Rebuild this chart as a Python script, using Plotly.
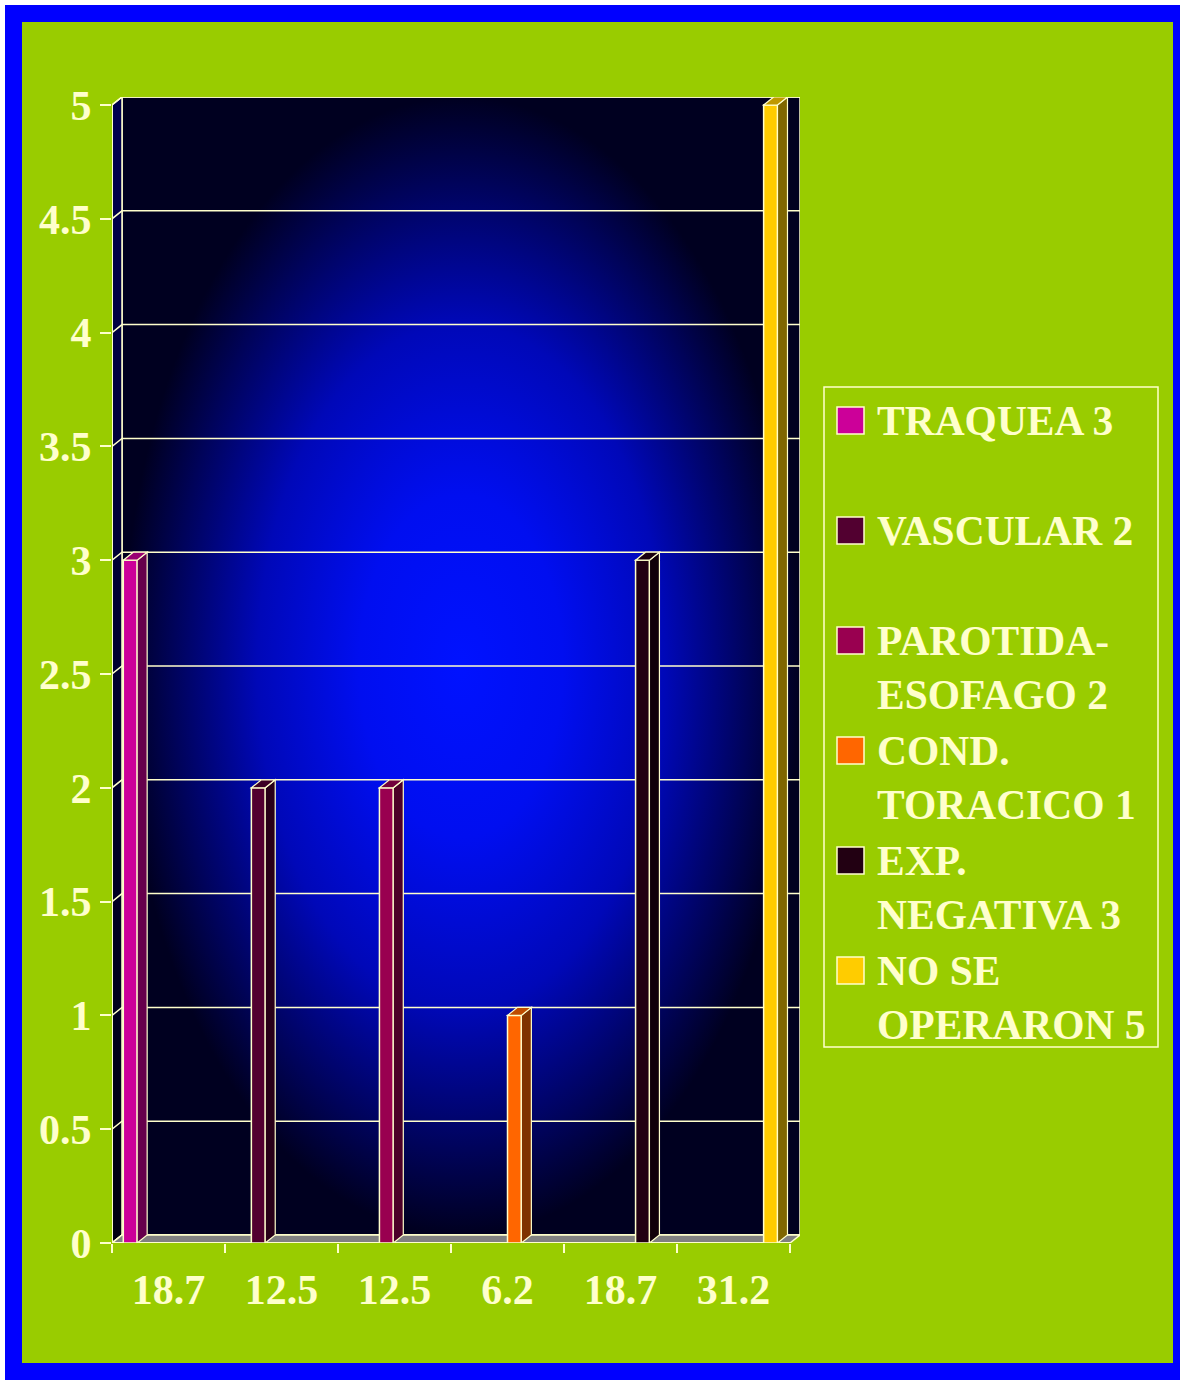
import plotly.graph_objects as go

# ---- data ---------------------------------------------------------------
categories = ["18.7", "12.5", "12.5", "6.2", "18.7", "31.2"]   # percentage of cases
series_names = ["TRAQUEA", "VASCULAR", "PAROTIDA-ESOFAGO", "COND. TORACICO",
                "EXP. NEGATIVA", "NO SE OPERARON"]
series_values = [3, 2, 2, 1, 3, 5]
legend_lines = [["TRAQUEA 3"], ["VASCULAR 2"], ["PAROTIDA-", "ESOFAGO 2"],
                ["COND.", "TORACICO 1"], ["EXP.", "NEGATIVA 3"], ["NO SE", "OPERARON 5"]]
y_ticks = [0, 0.5, 1, 1.5, 2, 2.5, 3, 3.5, 4, 4.5, 5]

# ---- style --------------------------------------------------------------
bar_colors = ["#CC0099", "#520030", "#990050", "#FF6600", "#220012", "#FFCC00"]
CREAM = "#FFFFCC"
GREEN = "#99CC00"
BLUE = "#0000FF"
FONT = "Liberation Serif, Times New Roman, serif"

W, H = 1182, 1385
ML, MR, MT, MB = 112, 382, 97, 142
PW, PH = W - ML - MR, H - MT - MB

# 3-D depth of the box, in pixels, turned into axis units below
DEPTH_PX = (10, 8)
n_cat = len(categories)
y_max = max(y_ticks)
px_per_x = (PW - DEPTH_PX[0]) / n_cat
px_per_y = (PH - DEPTH_PX[1]) / y_max
DX = DEPTH_PX[0] / px_per_x
DY = DEPTH_PX[1] / px_per_y
x_range = [-0.5, n_cat - 0.5 + DX]
y_range = [0, y_max + DY]


def shade(hex_color, f):
    r, g, b = (int(hex_color[i:i + 2], 16) for i in (1, 3, 5))
    return "#%02X%02X%02X" % (int(r * f), int(g * f), int(b * f))


def px_x(px):
    return (px - ML) / PW


def px_y(py):
    return (H - MB - py) / PH


fig = go.Figure()

# back wall with a radial blue glow
x0w, x1w = -0.5 + DX, n_cat - 0.5 + DX
fig.add_trace(go.Scatter(
    x=[x0w, x1w, x1w, x0w, x0w], y=[DY, DY, y_max + DY, y_max + DY, DY],
    mode="lines", fill="toself",
    fillgradient=dict(type="radial",
                      colorscale=[[0, "#0012FF"], [0.3, "#000EF0"],
                                  [0.6, "#0008B8"], [0.85, "#00035A"],
                                  [1, "#000020"]]),
    line=dict(color=CREAM, width=1.5), hoverinfo="skip", showlegend=False))

# left side wall
fig.add_trace(go.Scatter(
    x=[-0.5, -0.5, -0.5 + DX, -0.5 + DX, -0.5],
    y=[0, y_max, y_max + DY, DY, 0],
    mode="lines", fill="toself",
    fillgradient=dict(type="vertical",
                      colorscale=[[0, "#000010"], [1, "#000050"]]),
    line=dict(color=CREAM, width=1.5), hoverinfo="skip", showlegend=False))

# gridlines: diagonal on the side wall, then across the back wall
gx, gy = [], []
for v in y_ticks:
    gx += [-0.5, -0.5 + DX, x1w, None]
    gy += [v, v + DY, v + DY, None]
fig.add_trace(go.Scatter(x=gx, y=gy, mode="lines",
                         line=dict(color=CREAM, width=1.5),
                         hoverinfo="skip", showlegend=False))

# floor
fig.add_trace(go.Scatter(
    x=[-0.5, n_cat - 0.5, n_cat - 0.5 + DX, -0.5 + DX, -0.5],
    y=[0, 0, DY, DY, 0],
    mode="lines", fill="toself", fillcolor="#808080",
    line=dict(color=CREAM, width=1.5), hoverinfo="skip", showlegend=False))

# front axis lines
fig.add_trace(go.Scatter(x=[-0.5, -0.5, None, -0.5, n_cat - 0.5],
                         y=[y_max, 0, None, 0, 0], mode="lines",
                         line=dict(color=CREAM, width=2),
                         hoverinfo="skip", showlegend=False))

# bars: one series per category, grouped slots
group_width = 0.8
slot = group_width / len(series_names)
bar_w = slot * 0.92
shapes = []
for k, (name, val, col) in enumerate(zip(series_names, series_values, bar_colors)):
    yv = [val if i == k else None for i in range(n_cat)]
    off = -group_width / 2 + k * slot
    fig.add_trace(go.Bar(
        x=list(range(n_cat)), y=yv, name=name, offset=off, width=bar_w,
        marker=dict(color=col, line=dict(color=CREAM, width=1.5)),
        xaxis="x2", yaxis="y2", showlegend=False))
    bx0 = k + off
    bx1 = bx0 + bar_w
    side = (f"M {bx1},0 L {bx1 + DX},{DY} L {bx1 + DX},{val + DY} "
            f"L {bx1},{val} Z")
    top = (f"M {bx0},{val} L {bx0 + DX},{val + DY} L {bx1 + DX},{val + DY} "
           f"L {bx1},{val} Z")
    for path, f in ((side, 0.5), (top, 0.75)):
        shapes.append(dict(type="path", path=path, xref="x2", yref="y2",
                           fillcolor=shade(col, f),
                           line=dict(color=CREAM, width=1.2), layer="above"))

# frame: white page, blue border, green panel
shapes.insert(0, dict(type="rect", xref="paper", yref="paper",
                      x0=px_x(5), x1=px_x(1180), y0=px_y(1380), y1=px_y(5),
                      fillcolor=BLUE, line=dict(width=0), layer="below"))
shapes.insert(1, dict(type="rect", xref="paper", yref="paper",
                      x0=px_x(22), x1=px_x(1173), y0=px_y(1363), y1=px_y(22),
                      fillcolor=GREEN, line=dict(width=0), layer="below"))

# legend box, swatches and labels
shapes.append(dict(type="rect", xref="paper", yref="paper",
                   x0=px_x(824), x1=px_x(1158), y0=px_y(1047), y1=px_y(387),
                   line=dict(color=CREAM, width=1.5), fillcolor="rgba(0,0,0,0)"))
annotations = []
for k, (lines, col) in enumerate(zip(legend_lines, bar_colors)):
    top_px = 407 + 110 * k
    shapes.append(dict(type="rect", xref="paper", yref="paper",
                       x0=px_x(837), x1=px_x(864),
                       y0=px_y(top_px + 27), y1=px_y(top_px),
                       fillcolor=col, line=dict(color=CREAM, width=1.5)))
    annotations.append(dict(
        xref="paper", yref="paper", x=px_x(876), y=px_y(top_px - 10),
        xanchor="left", yanchor="top", align="left", showarrow=False,
        borderpad=0, text="<br>".join(lines),
        font=dict(family=FONT, size=41.5, color=CREAM, weight="bold")))

tick_font = dict(family=FONT, size=42, color=CREAM, weight="bold")
fig.update_layout(
    width=W, height=H,
    margin=dict(l=ML, r=MR, t=MT, b=MB, pad=0),
    paper_bgcolor="#FFFFFF", plot_bgcolor="rgba(0,0,0,0)",
    barmode="overlay",
    xaxis=dict(range=x_range, tickvals=list(range(n_cat)), ticktext=categories,
               ticks="", showgrid=False, zeroline=False, showline=False,
               tickfont=tick_font, ticklabelstandoff=18, fixedrange=True),
    xaxis2=dict(range=x_range, overlaying="x", anchor="y2", side="bottom",
                tickvals=[i - 0.5 for i in range(n_cat + 1)],
                ticks="outside", ticklen=9, tickwidth=1.5, tickcolor=CREAM,
                showticklabels=False, showgrid=False, zeroline=False,
                showline=False, fixedrange=True),
    yaxis=dict(range=y_range, tickvals=y_ticks,
               ticktext=[f"{v:g}" for v in y_ticks],
               ticks="outside", ticklen=11, tickwidth=1.5, tickcolor=CREAM,
               showgrid=False, zeroline=False, showline=False,
               tickfont=tick_font, fixedrange=True),
    yaxis2=dict(range=y_range, overlaying="y", visible=False, fixedrange=True),
    shapes=shapes, annotations=annotations, showlegend=False,
)

fig.write_html("out.html")
